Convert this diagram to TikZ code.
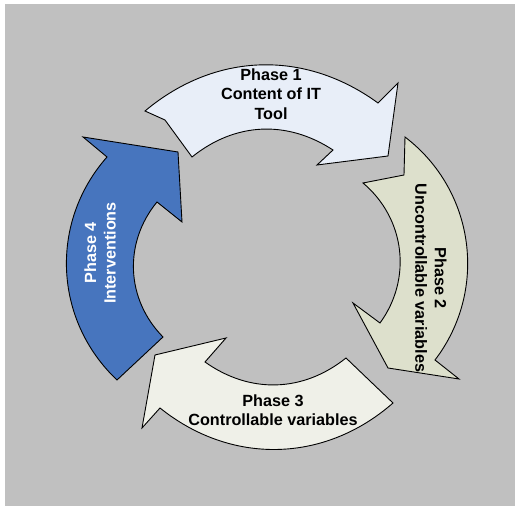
\documentclass[tikz,border=0pt]{standalone}
\usepackage{fontspec}
\setmainfont{Liberation Sans}
\usepackage{tikz}
\definecolor{panelgray}{RGB}{192,192,192}
\definecolor{phaseonefill}{RGB}{232,238,248}
\definecolor{phasetwofill}{RGB}{221,224,204}
\definecolor{phasethreefill}{RGB}{239,240,232}
\definecolor{phasefourfill}{RGB}{71,117,190}
\tikzset{
  phasearrow/.style={draw=black, line width=0.9pt, line join=miter},
  phaselabel/.style={font=\fontsize{16.2}{19.5}\selectfont\bfseries, text=black, align=center, inner sep=0pt}
}

\begin{document}
\begin{tikzpicture}[x=1pt, y=1pt]
  \useasboundingbox (0,0) rectangle (515,506);
  \fill[panelgray] (5,0) rectangle (515,502);
  \draw[phasearrow, fill=phaseonefill] (145,395) to[bend left=38] (378,403) -- (398,423) -- (388,350) -- (317,341) -- (333,356) to[bend right=36] (192,349) -- (165,386) -- cycle;
  \draw[phasearrow, fill=phasetwofill] (405,369) to[bend left=45] (435,146) -- (459,127) -- (388,138) -- (353,203) -- (380,183) to[bend right=43] (363,323) -- (404,331) -- cycle;
  \draw[phasearrow, fill=phasethreefill] (393,103) to[bend left=40] (160,98) -- (142,78) -- (155,151) -- (226,168) -- (205,144) to[bend right=37] (346,148) -- cycle;
  \draw[phasearrow, fill=phasefourfill] (117,126) to[bend left=44] (107,349) -- (83,369) -- (178,354) -- (182,284) -- (157,304) to[bend right=42] (163,169) -- cycle;
  \node[phaselabel] (phaseone) at (271,412) {Phase 1\\Content of IT\\Tool};
  \node[phaselabel, rotate=-90] (phasetwo) at (431,228) {Phase 2\\Uncontrollable variables};
  \node[phaselabel] (phasethree) at (273,96) {Phase 3\\Controllable variables};
  \node[phaselabel, text=white, rotate=90] (phasefour) at (100,253) {Phase 4\\Interventions};
\end{tikzpicture}
\end{document}
